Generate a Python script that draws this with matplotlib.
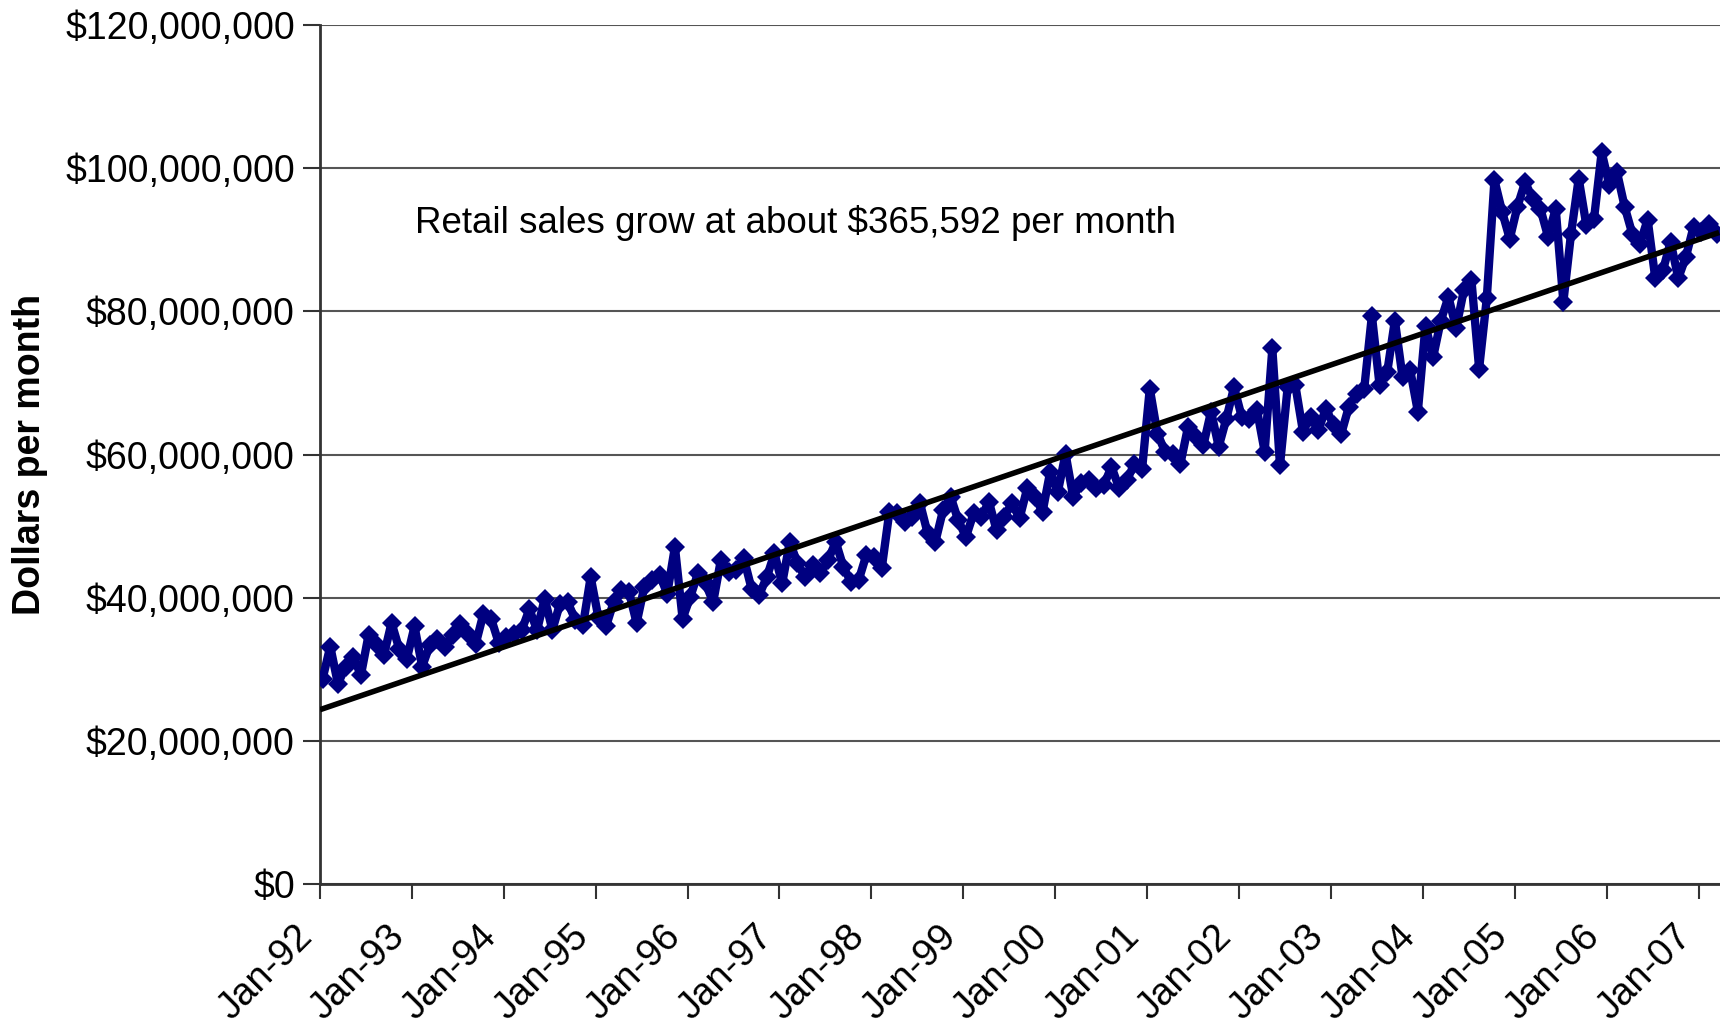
import numpy as np
import matplotlib
matplotlib.use("Agg")
import matplotlib.pyplot as plt
from matplotlib.ticker import FuncFormatter

# monthly retail sales, millions of dollars, Jan-92 .. Mar-07
sales_1992 = [28.7, 33.2, 28.0, 30.4, 31.8, 29.2, 34.8, 33.6, 32.0, 36.5, 32.9, 31.5]
sales_1993 = [36.0, 30.4, 33.4, 34.3, 33.2, 34.8, 36.4, 35.0, 33.6, 37.8, 37.1, 33.7]
sales_1994 = [34.5, 35.0, 35.5, 38.4, 35.5, 39.9, 35.5, 39.2, 39.4, 36.9, 36.2, 42.9]
sales_1995 = [37.3, 36.0, 39.4, 41.1, 40.8, 36.5, 41.5, 42.5, 43.2, 40.6, 47.1, 37.1]
sales_1996 = [40.1, 43.4, 42.0, 39.4, 45.3, 43.6, 43.9, 45.5, 41.3, 40.4, 42.9, 46.2]
sales_1997 = [42.0, 47.8, 44.8, 42.9, 44.6, 43.4, 45.3, 47.8, 44.3, 42.2, 42.5, 46.0]
sales_1998 = [45.7, 44.1, 52.0, 51.8, 50.6, 51.3, 53.2, 49.0, 47.8, 52.2, 54.1, 50.8]
sales_1999 = [48.5, 51.8, 51.3, 53.4, 49.4, 51.3, 53.2, 51.1, 55.3, 54.1, 52.0, 57.6]
sales_2000 = [54.8, 60.1, 54.1, 56.0, 56.4, 55.3, 55.7, 58.3, 55.3, 56.4, 58.7, 58.0]
sales_2001 = [69.2, 62.9, 60.4, 60.1, 58.7, 63.9, 62.5, 61.3, 66.0, 61.1, 65.0, 69.4]
sales_2002 = [65.3, 65.0, 66.2, 60.4, 74.8, 58.5, 69.4, 69.7, 63.2, 65.3, 63.4, 66.4]
sales_2003 = [64.1, 62.9, 66.7, 68.5, 69.2, 79.4, 69.7, 71.5, 78.7, 70.8, 71.8, 66.0]
sales_2004 = [78.0, 73.6, 78.7, 82.0, 77.6, 82.9, 84.3, 72.0, 81.8, 98.3, 93.9, 90.1]
sales_2005 = [94.6, 98.0, 95.7, 94.3, 90.4, 94.3, 81.3, 90.8, 98.5, 92.0, 92.9, 102.2]
sales_2006 = [97.6, 99.4, 94.6, 90.8, 89.4, 92.8, 84.6, 85.7, 89.7, 84.6, 87.6, 91.8]
sales_2007 = [91.1, 92.2, 90.8]

year_labels = ["Jan-92", "Jan-93", "Jan-94", "Jan-95", "Jan-96", "Jan-97", "Jan-98",
               "Jan-99", "Jan-00", "Jan-01", "Jan-02", "Jan-03", "Jan-04", "Jan-05",
               "Jan-06", "Jan-07"]
note = "Retail sales grow at about $365,592 per month"

sales = np.concatenate([sales_1992, sales_1993, sales_1994, sales_1995, sales_1996,
                        sales_1997, sales_1998, sales_1999, sales_2000, sales_2001,
                        sales_2002, sales_2003, sales_2004, sales_2005, sales_2006,
                        sales_2007]) * 1e6
months = np.arange(len(sales)) + 0.35

# linear trend fitted on the data
slope, intercept = np.polyfit(months, sales, 1)

plt.rcParams["font.family"] = ["Liberation Sans", "DejaVu Sans"]

fig = plt.figure(figsize=(17.2, 10.26), dpi=100)
ax = fig.add_axes([0.186, 0.138, 0.814, 0.838])

ax.plot(months, sales, color="#000080", lw=6, marker="D", ms=10.5,
        markeredgewidth=0, zorder=3)
ax.plot(months[[0, -1]], intercept + slope * months[[0, -1]], color="black",
        lw=4, zorder=4)

ax.set_ylim(0, 120e6)
ax.set_xlim(0, 182.8)
ax.set_yticks(np.arange(0, 120e6 + 1, 20e6))
ax.yaxis.set_major_formatter(FuncFormatter(lambda v, p: f"${v:,.0f}"))
ax.set_xticks(np.arange(len(year_labels)) * 12)
ax.set_xticklabels(year_labels, rotation=45, ha="right", va="bottom",
                   rotation_mode="anchor", fontsize=27.5)

ax.grid(axis="y", color="#555555", lw=1.5)
ax.set_axisbelow(True)
for side in ["top", "right"]:
    ax.spines[side].set_visible(False)
for side in ["left", "bottom"]:
    ax.spines[side].set_color("#333333")
    ax.spines[side].set_linewidth(2)
ax.tick_params(axis="y", labelsize=27, color="#333333", width=1.5, length=12, pad=6)
ax.tick_params(axis="x", color="#333333", width=1.5, length=11, pad=32)

ax.set_ylabel("Dollars per month", fontsize=27, fontweight="bold")
ax.yaxis.set_label_coords(-0.194, 0.5)
ax.text(12.4, 92.3e6, note, fontsize=26.5, va="center", ha="left")

fig.savefig("out.png", dpi=100)
